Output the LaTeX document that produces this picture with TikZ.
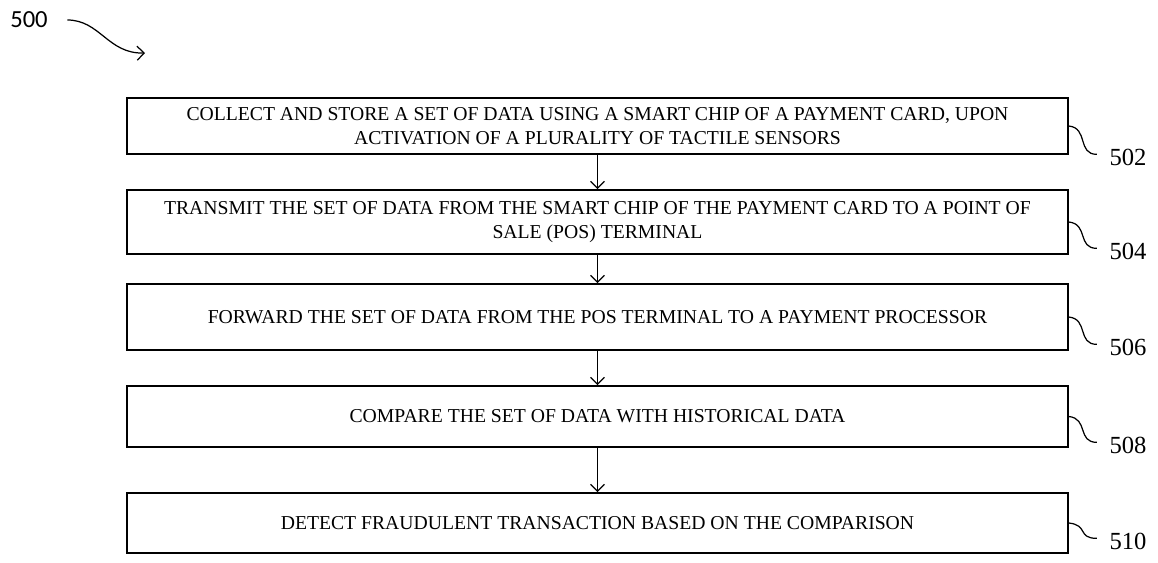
\documentclass[tikz,border=0pt]{standalone}
\usepackage{fontspec}
\setmainfont{Liberation Serif}
\newfontfamily\figfont{Carlito}
\usepackage{tikz}
\usetikzlibrary{arrows,arrows.meta,positioning}

\begin{document}
\begin{tikzpicture}[x=0.02cm, y=-0.02cm,
    stepbox/.style={draw, line width=0.9pt, minimum width=18.82cm, align=center,
        font=\fontsize{11.2}{13.6}\selectfont},
    reflabel/.style={inner sep=1pt, font=\fontsize{14}{16}\selectfont},
    flow/.style={-{Straight Barb[length=4pt,width=8pt]}, line width=0.7pt},
    lead/.style={line width=0.7pt}]
    \useasboundingbox (0,0) rectangle (1158,563);

    % Figure number
    \node[inner sep=1pt, font=\figfont\fontsize{14}{16}\selectfont] (l500) at (29,20) {500};
    \coordinate (p500) at (145,53);
    \draw[flow] ([xshift=10pt]l500.east) .. controls (100,20) and (108,54) .. (p500);

    % Steps
    \node[stepbox, minimum height=1.12cm] (b502) at (597.5,126)
        {COLLECT AND STORE A SET OF DATA USING A SMART CHIP OF A PAYMENT CARD, UPON\\ACTIVATION OF A PLURALITY OF TACTILE SENSORS};
    \node[stepbox, minimum height=1.28cm] (b504) at (597.5,222)
        {TRANSMIT THE SET OF DATA FROM THE SMART CHIP OF THE PAYMENT CARD TO A POINT OF\\SALE (POS) TERMINAL};
    \node[stepbox, minimum height=1.32cm] (b506) at (597.5,317)
        {FORWARD THE SET OF DATA FROM THE POS TERMINAL TO A PAYMENT PROCESSOR};
    \node[stepbox, minimum height=1.22cm] (b508) at (597.5,416.5)
        {COMPARE THE SET OF DATA WITH HISTORICAL DATA};
    \node[stepbox, minimum height=1.2cm] (b510) at (597.5,523)
        {DETECT FRAUDULENT TRANSACTION BASED ON THE COMPARISON};

    % Flow between steps
    \draw[flow] (b502) -- (b504);
    \draw[flow] (b504) -- (b506);
    \draw[flow] (b506) -- (b508);
    \draw[flow] (b508) -- (b510);

    % Reference numerals
    \foreach \n/\y in {502/157, 504/251, 506/347, 508/445, 510/541} {
        \node[reflabel] (l\n) at (1128,\y) {\n};
        \draw[lead] (b\n.east) .. controls +(20,2) and +(-20,0) .. ([xshift=-6pt,yshift=1.5pt]l\n.west);
    }
\end{tikzpicture}
\end{document}
